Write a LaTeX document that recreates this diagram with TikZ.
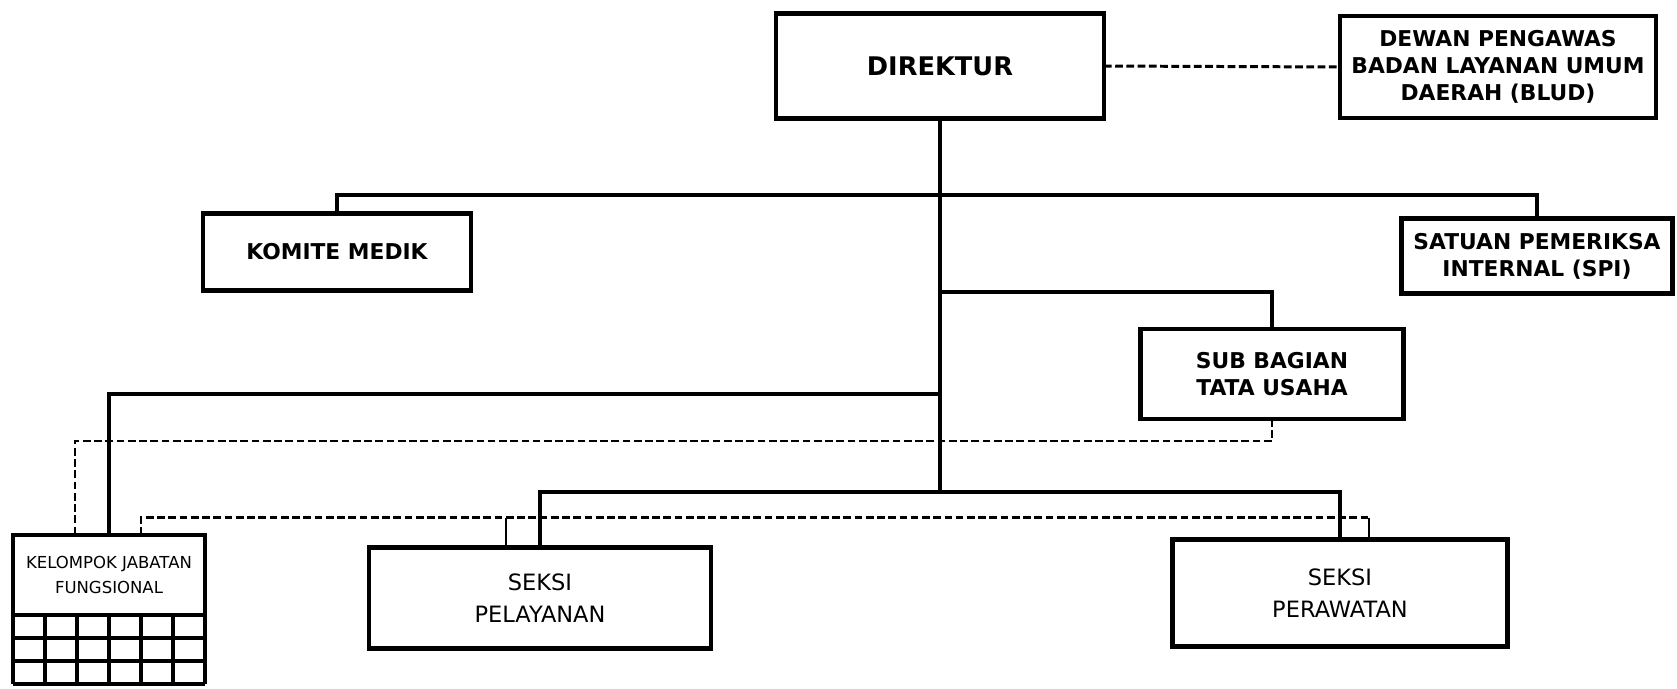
\documentclass[tikz,border=0pt]{standalone}
\usepackage{fontspec}
\setmainfont{DejaVu Sans}
\usetikzlibrary{calc}

\tikzset{
  unit/.style={draw, line width=1.3pt, inner sep=0pt, outer sep=0pt, align=center,
    font=\fontsize{6.2}{7.6}\selectfont\bfseries},
  plainunit/.style={unit, font=\fontsize{6.4}{9}\selectfont},
  conn/.style={line width=1.1pt},
  dashline/.style={line width=0.85pt, dash pattern=on 2.2pt off 1pt},
  tick/.style={line width=0.7pt},
}

\begin{document}
\begin{tikzpicture}[x=0.1mm, y=-0.1mm]
  \fill[white] (0,0) rectangle (1677,689);
  \useasboundingbox (0,0) rectangle (1677,689);

  % Boxes
  \node[unit, minimum width=32.8mm, minimum height=10.5mm,
    font=\fontsize{7.3}{8.5}\selectfont\bfseries] (dir) at (940,66) {DIREKTUR};
  \node[unit, minimum width=31.6mm, minimum height=10.2mm] (dewan) at (1498,67)
    {DEWAN PENGAWAS\\BADAN LAYANAN UMUM\\DAERAH (BLUD)};
  \node[unit, minimum width=26.8mm, minimum height=7.7mm] (komite) at (337,252) {KOMITE MEDIK};
  \node[unit, minimum width=27.1mm, minimum height=7.5mm] (spi) at (1537,256)
    {SATUAN PEMERIKSA\\INTERNAL (SPI)};
  \node[unit, minimum width=26.3mm, minimum height=9mm] (sub) at (1272,374)
    {SUB BAGIAN\\TATA USAHA};
  \node[plainunit, minimum width=34.2mm, minimum height=10.1mm] (pel) at (540,598)
    {SEKSI\\PELAYANAN};
  \node[plainunit, minimum width=33.5mm, minimum height=10.7mm] (per) at (1340,593)
    {SEKSI\\PERAWATAN};
  \node[unit, minimum width=19.2mm, minimum height=8mm,
    font=\fontsize{4.7}{7}\selectfont] (kel) at (109,575) {KELOMPOK JABATAN\\FUNGSIONAL};

  % Grid under kelompok
  \foreach \i in {1,...,3}
    \draw[conn] ($(kel.south west)+(0,23*\i)$) -- ($(kel.south east)+(0,23*\i)$);
  \foreach \j in {0,...,6}
    \draw[conn] ($(kel.south west)+(32*\j,0)$) -- ($(kel.south west)+(32*\j,69)$);

  % Bus points on the trunk
  \coordinate (tbus) at (940,195);
  \coordinate (sbranch) at (940,292);
  \coordinate (lbus) at (940,394);
  \coordinate (sbus) at (940,492);

  % Solid lines
  \draw[conn] (dir.south) -- (sbus);
  \draw[conn] (komite.north) |- (tbus) -| (spi.north);
  \draw[conn] (sbranch) -| (sub.north);
  \draw[conn] (lbus) -| (kel.north);
  \draw[conn] (pel.north) |- (sbus) -| (per.north);

  % Dashed lines
  \draw[dashline] (dir.east) -- (dewan.west);
  \draw[dashline] (sub.south) -- ++(0,22) -| ($(kel.north)+(-34,0)$);
  \draw[dashline] ($(kel.north)+(32,0)$) |- ($(per.north)+(29,-22)$);
  \draw[tick] ($(per.north)+(29,-22)$) -- ($(per.north)+(29,0)$);
  \draw[tick] ($(pel.north)+(-34,0)$) -- ++(0,-30);
\end{tikzpicture}
\end{document}
